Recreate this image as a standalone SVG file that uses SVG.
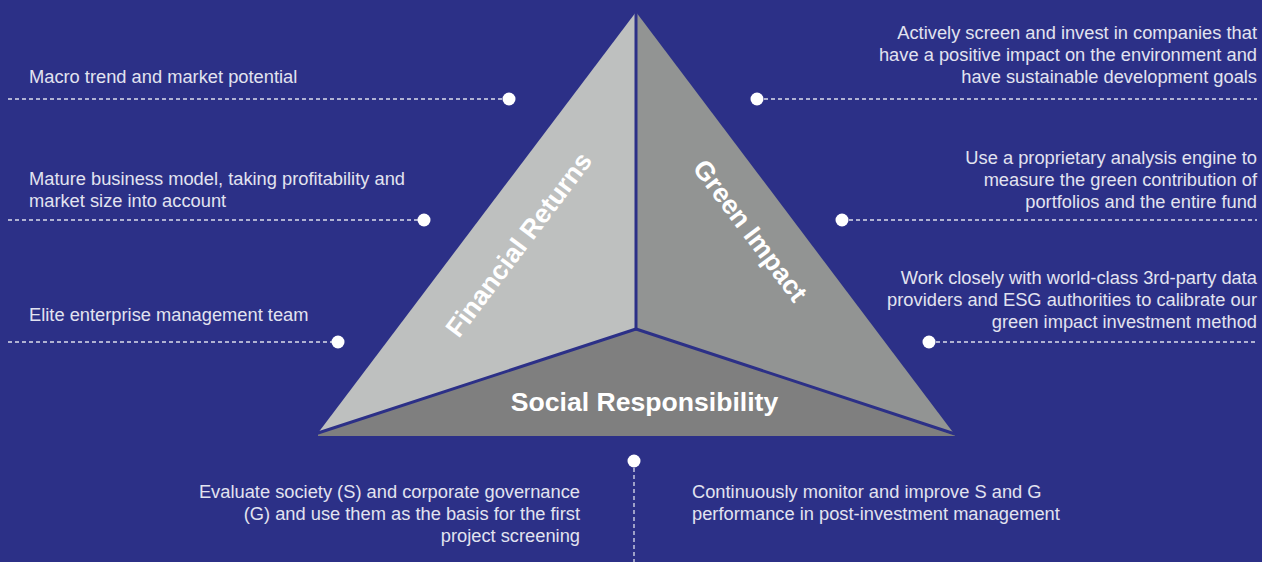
<svg xmlns="http://www.w3.org/2000/svg" width="1262" height="562" viewBox="0 0 1262 562">
  <style>
    .lbl { font-family: "Liberation Sans", Arial, sans-serif; font-size: 18.3px; fill: #E2E3F0; }
    .r { text-anchor: end; }
    .face-title { font-family: "Liberation Sans", Arial, sans-serif; font-size: 26.6px; font-weight: bold; fill: #FFFFFF; text-anchor: middle; }
    .dash { stroke: #DCDDEC; stroke-width: 1.3; stroke-dasharray: 4 3; fill: none; }
    .dot { fill: #FFFFFF; }
    .edge { stroke: #2C3087; stroke-width: 3; fill: none; stroke-linecap: round; }
  </style>
  <rect width="1262" height="562" fill="#2C3087"/>

  <g id="triangle">
    <g id="financial-returns">
      <polygon points="636,12 636,329 318,433" fill="#BEC0BF"/>
      <text class="face-title" transform="translate(526,250) rotate(-53)">Financial Returns</text>
    </g>
    <g id="green-impact">
      <polygon points="636,12 955,435 636,329" fill="#929493"/>
      <text class="face-title" transform="translate(743,236) rotate(53)">Green Impact</text>
    </g>
    <g id="social-responsibility">
      <polygon points="318,433 636,329 955,435 955,436 318,436" fill="#7F7F7F"/>
      <text class="face-title" x="644.5" y="411">Social Responsibility</text>
    </g>
    <g id="dividers">
      <line class="edge" x1="636" y1="12" x2="636" y2="329"/>
      <line class="edge" x1="636" y1="329" x2="318" y2="433"/>
      <line class="edge" x1="636" y1="329" x2="955" y2="434"/>
    </g>
  </g>

  <g id="connectors">
    <line class="dash" x1="8" y1="99" x2="509" y2="99"/>
    <line class="dash" x1="8" y1="220" x2="424" y2="220"/>
    <line class="dash" x1="8" y1="342" x2="338" y2="342"/>
    <line class="dash" x1="757" y1="99" x2="1257" y2="99"/>
    <line class="dash" x1="842" y1="220" x2="1257" y2="220"/>
    <line class="dash" x1="929" y1="342" x2="1257" y2="342"/>
    <line class="dash" x1="634" y1="461" x2="634" y2="562"/>
    <circle class="dot" cx="509" cy="99" r="6.5"/>
    <circle class="dot" cx="424" cy="220" r="6.5"/>
    <circle class="dot" cx="338" cy="342" r="6.5"/>
    <circle class="dot" cx="757" cy="99" r="6.5"/>
    <circle class="dot" cx="842" cy="220" r="6.5"/>
    <circle class="dot" cx="929" cy="342" r="6.5"/>
    <circle class="dot" cx="634" cy="461" r="6.5"/>
  </g>

  <g id="label-macro">
    <text class="lbl" x="29" y="83">Macro trend and market potential</text>
  </g>
  <g id="label-business">
    <text class="lbl" x="29" y="185">Mature business model, taking profitability and</text>
    <text class="lbl" x="29" y="207">market size into account</text>
  </g>
  <g id="label-team">
    <text class="lbl" x="29" y="321">Elite enterprise management team</text>
  </g>
  <g id="label-screen">
    <text class="lbl r" x="1257" y="39">Actively screen and invest in companies that</text>
    <text class="lbl r" x="1257" y="61">have a positive impact on the environment and</text>
    <text class="lbl r" x="1257" y="83">have sustainable development goals</text>
  </g>
  <g id="label-engine">
    <text class="lbl r" x="1257" y="164">Use a proprietary analysis engine to</text>
    <text class="lbl r" x="1257" y="186">measure the green contribution of</text>
    <text class="lbl r" x="1257" y="208">portfolios and the entire fund</text>
  </g>
  <g id="label-partners">
    <text class="lbl r" x="1257" y="284">Work closely with world-class 3rd-party data</text>
    <text class="lbl r" x="1257" y="306">providers and ESG authorities to calibrate our</text>
    <text class="lbl r" x="1257" y="328">green impact investment method</text>
  </g>
  <g id="label-evaluate">
    <text class="lbl r" x="580" y="498">Evaluate society (S) and corporate governance</text>
    <text class="lbl r" x="580" y="520">(G) and use them as the basis for the first</text>
    <text class="lbl r" x="580" y="542">project screening</text>
  </g>
  <g id="label-monitor">
    <text class="lbl" x="692" y="498">Continuously monitor and improve S and G</text>
    <text class="lbl" x="692" y="520">performance in post-investment management</text>
  </g>
</svg>
